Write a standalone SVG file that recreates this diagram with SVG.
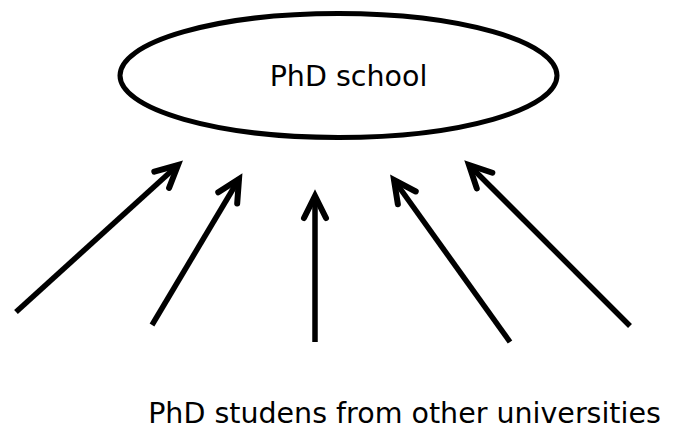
<svg xmlns="http://www.w3.org/2000/svg" width="673" height="430" viewBox="0 0 673 430">
<defs>
<style>
.lbl{font-family:"DejaVu Sans","Verdana",sans-serif;fill:#000;font-size:28.5px}
.arr{stroke:#000;stroke-width:5.5;fill:none;marker-end:url(#ah)}
</style>
<marker id="ah" markerUnits="userSpaceOnUse" markerWidth="40" markerHeight="40" refX="0" refY="0" viewBox="-30 -20 40 40" orient="auto" overflow="visible">
<path d="M-22,-11 L0,0 L-22,11" fill="none" stroke="#000" stroke-width="6" stroke-linecap="round" stroke-linejoin="miter"/>
</marker>
</defs>
<rect width="673" height="430" fill="#fff"/>
<g id="phd-school">
<ellipse cx="338.5" cy="75.5" rx="218.5" ry="62" fill="#fff" stroke="#000" stroke-width="5"/>
<text class="lbl" x="348.5" y="86" text-anchor="middle">PhD school</text>
</g>
<g id="connectors">
<line class="arr" x1="16" y1="312" x2="178" y2="165"/>
<line class="arr" x1="152" y1="325" x2="239" y2="179"/>
<line class="arr" x1="315" y1="342" x2="315" y2="196"/>
<line class="arr" x1="510" y1="342" x2="394" y2="180"/>
<line class="arr" x1="630" y1="326" x2="469" y2="165"/>
</g>
<g id="students">
<text class="lbl" x="404.5" y="423" text-anchor="middle">PhD studens from other universities</text>
</g>
</svg>
